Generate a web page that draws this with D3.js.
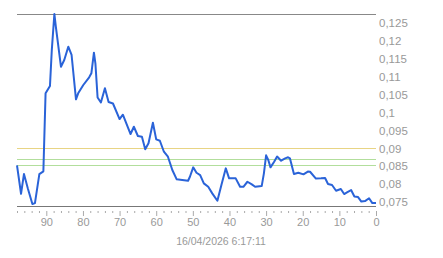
<!DOCTYPE html>
<html>
<head>
<meta charset="utf-8">
<script src="https://cdn.jsdelivr.net/npm/d3@7"></script>
<style>
  html, body { margin: 0; padding: 0; background: #fff; }
  svg { display: block; }
  text { font-family: "Liberation Sans", Arial, sans-serif; fill: #999; }
</style>
</head>
<body>
<svg id="chart" width="443" height="258"></svg>
<script>
// ---- data ----
const daysAgo = [98.0,96.9,96.1,95.0,93.8,93.1,91.9,90.8,90.2,89.0,88.5,87.8,87.4,86.0,85.1,84.0,83.1,81.9,81.3,79.9,
  78.3,77.7,77.0,76.6,76.0,75.1,74.0,73.0,71.8,70.0,69.1,67.0,66.1,65.0,63.9,63.0,62.1,60.9,60.0,59.0,
  57.9,56.8,55.6,54.4,52.9,51.3,50.8,49.9,49.0,48.0,47.0,45.8,44.7,43.3,42.2,41.0,40.1,38.3,37.1,36.2,
  35.1,33.9,33.0,31.2,30.6,30.0,29.4,28.8,27.8,27.0,25.9,24.8,24.0,23.5,22.4,21.2,19.8,18.6,18.0,16.4,
  15.0,13.9,13.1,12.0,10.9,9.6,8.7,7.8,6.8,5.9,4.9,4.0,3.0,1.9,1.0,0.0];
const price = [0.08525,0.07732,0.08282,0.07863,0.07444,0.07472,0.08282,0.08358,0.10536,0.10740,0.11746,0.12751,0.12397,0.11279,0.11466,0.11838,0.11606,0.10369,0.10536,0.10768,
  0.10983,0.11095,0.11670,0.11374,0.10419,0.10279,0.10676,0.10293,0.10251,0.09818,0.09939,0.09399,0.09603,0.09344,0.09324,0.08972,0.09140,0.09715,0.09251,0.09212,
  0.08905,0.08765,0.08394,0.08134,0.08115,0.08095,0.08207,0.08469,0.08318,0.08254,0.08022,0.07927,0.07743,0.07536,0.07975,0.08441,0.08162,0.08162,0.07927,0.07927,
  0.08067,0.07994,0.07927,0.07947,0.08302,0.08804,0.08673,0.08469,0.08626,0.08771,0.08654,0.08721,0.08749,0.08721,0.08282,0.08318,0.08274,0.08352,0.08346,0.08156,
  0.08162,0.08170,0.08003,0.07975,0.07816,0.07863,0.07723,0.07779,0.07835,0.07654,0.07640,0.07514,0.07528,0.07606,0.07472,0.07472];
const yTicks = [0.075,0.08,0.085,0.09,0.095,0.1,0.105,0.11,0.115,0.12,0.125];
const xTicks = [0,10,20,30,40,50,60,70,80,90];
const refLevels = [0.09, 0.0869, 0.0853];
const refColors = ["#e8d484", "#b2de9c", "#b2de9c"];
const dateLabel = "16/04/2026 6:17:11";
const xDomain = [98, 0];
const yDomain = [0.0739, 0.1275];

// ---- layout ----
const svg = d3.select("#chart");
const plotL = 17, plotR = 376, plotT = 14, plotB = 206;
const x = d3.scaleLinear().domain(xDomain).range([plotL, plotR]);
const y = d3.scaleLinear().domain(yDomain).range([plotB, plotT]);

// top border line
svg.append("line").attr("x1", plotL).attr("x2", plotR).attr("y1", plotT + 0.5).attr("y2", plotT + 0.5)
  .attr("stroke", "#888").attr("stroke-width", 1);

// reference lines
refLevels.forEach((v, i) => {
  svg.append("line").attr("x1", plotL).attr("x2", plotR)
    .attr("y1", Math.round(y(v)) + 0.5).attr("y2", Math.round(y(v)) + 0.5)
    .attr("stroke", refColors[i]).attr("stroke-width", 1);
});

// y axis labels (right side, no line)
const yAxis = d3.axisRight(y).tickValues(yTicks).tickSize(0).tickPadding(0)
  .tickFormat(v => String(+v.toFixed(3)).replace(".", ","));
const gy = svg.append("g").attr("transform", `translate(${plotR + 3},0)`).call(yAxis);
gy.select(".domain").remove();
gy.selectAll("text").attr("fill", "#a0a0a0").style("font-size", "11.5px");

// x axis
const minorTicks = d3.range(0, 99, 2).filter(v => v % 10 !== 0);
const gxMinor = svg.append("g").attr("transform", `translate(0,${plotB + 5})`)
  .call(d3.axisBottom(x).tickValues(minorTicks).tickSize(2).tickFormat(""));
gxMinor.select(".domain").remove();
gxMinor.selectAll("line").attr("stroke", "#aaa");

const gx = svg.append("g").attr("transform", `translate(0,${plotB + 5})`)
  .call(d3.axisBottom(x).tickValues(xTicks).tickSize(5).tickPadding(2).tickFormat(d3.format("d")));
gx.select(".domain").remove();
gx.selectAll("line").attr("stroke", "#aaa");
gx.selectAll("text").attr("fill", "#a0a0a0").style("font-size", "11px");

// bottom baseline
svg.append("line").attr("x1", plotL).attr("x2", plotR).attr("y1", plotB + 0.5).attr("y2", plotB + 0.5)
  .attr("stroke", "#777").attr("stroke-width", 1);

// price line
const line = d3.line().x((d, i) => x(daysAgo[i])).y(d => y(d));
svg.append("path").datum(price).attr("d", line)
  .attr("fill", "none").attr("stroke", "#2a63d8").attr("stroke-width", 2)
  .attr("stroke-linejoin", "round");

// date label
svg.append("text").attr("x", 221).attr("y", 245).attr("text-anchor", "middle")
  .style("font-size", "10.5px").attr("fill", "#a0a0a0").text(dateLabel);
</script>
</body>
</html>
